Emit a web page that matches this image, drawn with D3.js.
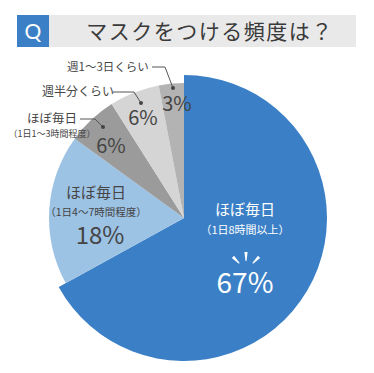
<!DOCTYPE html>
<html><head><meta charset="utf-8">
<script src="https://cdn.jsdelivr.net/npm/d3@7"></script>
<style>
html,body{margin:0;padding:0;background:#fff;}
svg{display:block;font-family:"Noto Sans CJK JP","Noto Sans",sans-serif;}
</style></head>
<body>
<svg id="c" width="374" height="373"></svg>
<script>
const title = "マスクをつける頻度は？";
const categories = ["ほぼ毎日（1日8時間以上）","ほぼ毎日（1日4〜7時間程度）","ほぼ毎日（1日1〜3時間程度）","週半分くらい","週1〜3日くらい"];
const values = [67, 18, 6, 6, 3];
const colors = ["#3b80c6", "#9cc2e4", "#9b9b9b", "#d5d5d5", "#b3b3b3"];

const svg = d3.select("#c");
const cx = 184, cy = 218, R = 135, Rbig = 143;

// header
svg.append("rect").attr("x",49).attr("y",15).attr("width",307).attr("height",32).attr("fill","#e9e9e9");
svg.append("rect").attr("x",17).attr("y",15).attr("width",32).attr("height",32).attr("fill","#3b80c6");
svg.append("text").attr("x",33).attr("y",38.5).attr("text-anchor","middle").attr("fill","#fff")
  .attr("font-size",21).attr("font-family","Lato, 'Noto Sans', sans-serif").text("Q");
svg.append("text").attr("x",210).attr("y",39).attr("text-anchor","middle").attr("fill","#3a3a3a")
  .attr("font-size",21).attr("letter-spacing",1.5).text(title);

const pie = d3.pie().sort(null).value(d=>d)(values);
const g = svg.append("g").attr("transform",`translate(${cx},${cy})`);
g.selectAll("path").data(pie).join("path")
  .attr("d", (d,i)=> d3.arc().innerRadius(0).outerRadius(i===0?Rbig:R)(d))
  .attr("fill",(d,i)=>colors[i]);

const dark = "#454545";
function txt(x,y,s,size,fill,anchor){
  return svg.append("text").attr("x",x).attr("y",y).attr("text-anchor",anchor||"middle")
    .attr("fill",fill||dark).attr("font-size",size).text(s);
}

// blue slice label
txt(245,215,"ほぼ毎日",15,"#fff");
txt(245,234,"（1日8時間以上）",11,"#fff");
txt(245,293,values[0]+"%",28,"#fff");
// burst
const burst = svg.append("g").attr("fill","#fff").attr("transform","translate(246,262)");
const spike = "M-1.6,-10 L1.6,-10 L0.5,-1 L-0.5,-1 Z";
burst.append("path").attr("d",spike);
burst.append("path").attr("d",spike).attr("transform","translate(-6,2) rotate(-45)");
burst.append("path").attr("d",spike).attr("transform","translate(6,2) rotate(45)");

// light blue label
txt(96,198,"ほぼ毎日",15);
txt(96,215.5,"（1日4〜7時間程度）",10.5);
txt(100,244,values[1]+"%",24);

// outer labels with leaders
const leaders = [
  {i:2, lines:["ほぼ毎日","（1日1〜3時間程度）"], lx:52, ly:123, sizes:[12.5,9], path:[[80,119],[95,119],[103,127]], px:111, py:153},
  {i:3, lines:["週半分くらい"], lx:78, ly:96, sizes:[12], path:[[113,92],[134,92],[141,103]], px:143, py:125},
  {i:4, lines:["週1〜3日くらい"], lx:108, ly:71, sizes:[11.5], path:[[152,67],[165,67],[173,88]], px:177, py:111},
];
leaders.forEach(L=>{
  L.lines.forEach((s,k)=>{
    txt(L.lx, L.ly + (k? 14:0), s, L.sizes[k]);
  });
  svg.append("path").attr("d", d3.line()(L.path)).attr("fill","none").attr("stroke","#555").attr("stroke-width",1);
  const e = L.path[L.path.length-1];
  svg.append("circle").attr("cx",e[0]).attr("cy",e[1]).attr("r",2).attr("fill","#444");
  txt(L.px, L.py, values[L.i]+"%", 20);
});
</script>
</body></html>
